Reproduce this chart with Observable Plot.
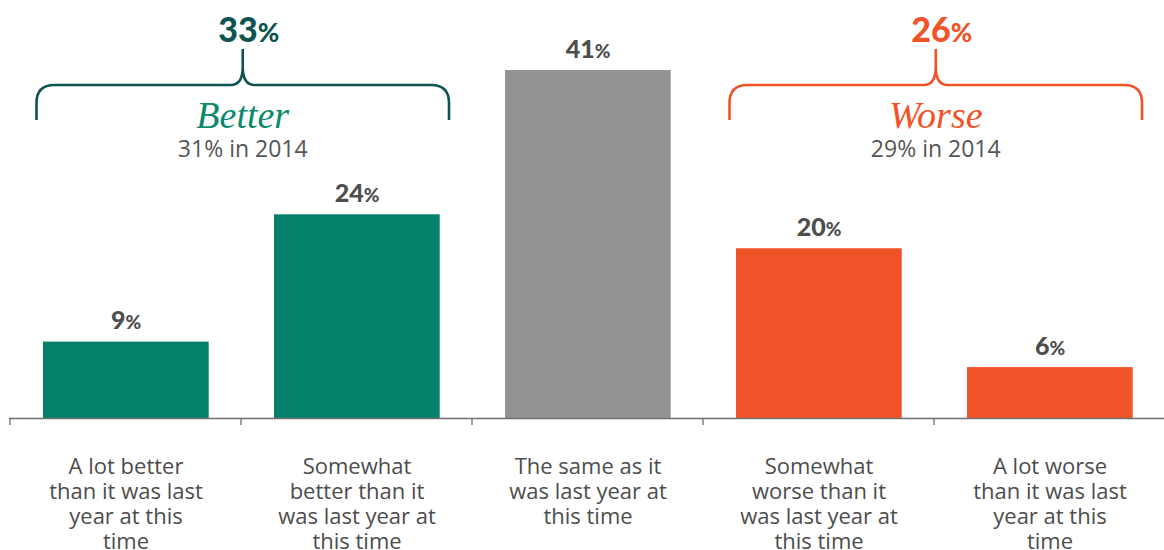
<!DOCTYPE html>
<html><head><meta charset="utf-8">
<script src="https://cdn.jsdelivr.net/npm/d3@7"></script>
<script src="https://cdn.jsdelivr.net/npm/@observablehq/plot@0.6"></script>
<style>html,body{margin:0;padding:0;background:#fff;} svg{display:block}</style>
</head><body><div id="chart"></div>
<script>
// ---- data ----
const categories = [
  "A lot better than it was last year at this time",
  "Somewhat better than it was last year at this time",
  "The same as it was last year at this time",
  "Somewhat worse than it was last year at this time",
  "A lot worse than it was last year at this time"
];
const labelLines = [
  ["A lot better", "than it was last", "year at this", "time"],
  ["Somewhat", "better than it", "was last year at", "this time"],
  ["The same as it", "was last year at", "this time"],
  ["Somewhat", "worse than it", "was last year at", "this time"],
  ["A lot worse", "than it was last", "year at this", "time"]
];
const values = [9, 24, 41, 20, 6];
const groups = ["Better", "Better", "Same", "Worse", "Worse"];

const braceNames = ["Better", "Worse"];
const braceTotals = [33, 26];
const braceNotes = ["31% in 2014", "29% in 2014"];
const braceSpans = [[0, 1], [3, 4]];

// ---- style ----
const TEAL = "#05806b", DARKTEAL = "#0d5450", GRAY = "#939393", ORANGE = "#f05327";
const TEXT = "#4d4d4d";
const braceStroke = {Better: DARKTEAL, Worse: ORANGE};
const braceTotalColor = {Better: DARKTEAL, Worse: ORANGE};
const braceNameColor = {Better: "#0a8a6c", Worse: ORANGE};

const data = categories.map((c, i) => ({cat: c, value: values[i], group: groups[i], label: labelLines[i].join("\n")}));

function bandInfo(x) {
  return typeof x.bandwidth === "function" ? x.bandwidth() : (x(categories[1]) - x(categories[0]));
}

const ticksMark = (index, scales) => {
  const x = scales.x, y0 = scales.y(0);
  const bw = bandInfo(x);
  const g = d3.create("svg:g").attr("stroke", "#6f6f6f").attr("stroke-width", 1.3);
  const pos = categories.map(c => x(c));
  pos.push(x(categories[categories.length - 1]) + bw);
  for (const p of pos) g.append("line").attr("x1", p).attr("x2", p).attr("y1", y0).attr("y2", y0 + 7);
  return g.node();
};

const bracesMark = (index, scales) => {
  const x = scales.x;
  const bw = bandInfo(x);
  const g = d3.create("svg:g");
  braceNames.forEach((name, i) => {
    const [a, b] = braceSpans[i];
    const x0 = x(categories[a]) + 26.5;
    const x1 = x(categories[b]) + bw - 23;
    const cx = (x0 + x1) / 2;
    const yh = 85, yEnd = 120, yTop = 49, r = 18;
    const p = d3.path();
    p.moveTo(x0, yEnd); p.lineTo(x0, yh + r); p.quadraticCurveTo(x0, yh, x0 + r, yh);
    p.lineTo(cx - 12, yh); p.quadraticCurveTo(cx, yh, cx, yh - 18); p.lineTo(cx, yTop);
    p.moveTo(cx, yh - 18); p.quadraticCurveTo(cx, yh, cx + 12, yh);
    p.lineTo(x1 - r, yh); p.quadraticCurveTo(x1, yh, x1, yh + r); p.lineTo(x1, yEnd);
    g.append("path").attr("d", p.toString()).attr("fill", "none")
      .attr("stroke", braceStroke[name]).attr("stroke-width", 2.6).attr("stroke-linejoin", "round");
    const t = g.append("text").attr("x", cx + 6).attr("y", 42).attr("text-anchor", "middle")
      .attr("font-family", "Lato, sans-serif").attr("font-weight", 900).attr("font-size", 34)
      .attr("fill", braceTotalColor[name]);
    t.append("tspan").text(braceTotals[i]);
    t.append("tspan").attr("font-size", 26).text("%");
    g.append("text").attr("x", cx).attr("y", 128).attr("text-anchor", "middle")
      .attr("font-family", "'Liberation Serif', serif").attr("font-style", "italic").attr("font-size", 38)
      .attr("fill", braceNameColor[name]).text(name);
    g.append("text").attr("x", cx).attr("y", 157).attr("text-anchor", "middle")
      .attr("font-family", "'Open Sans', sans-serif").attr("font-size", 23)
      .attr("fill", "#555").text(braceNotes[i]);
  });
  return g.node();
};

const chart = Plot.plot({
  width: 1164, height: 550,
  marginLeft: 9, marginRight: -1.5, marginTop: 70, marginBottom: 132,
  x: {domain: categories, padding: 0, axis: null},
  y: {domain: [0, 41], axis: null},
  color: {domain: ["Better", "Same", "Worse"], range: [TEAL, GRAY, ORANGE]},
  style: {background: "#fff", fontFamily: "'Open Sans', sans-serif", overflow: "visible"},
  marks: [
    Plot.barY(data, {x: "cat", y: "value", fill: "group", insetLeft: 33, insetRight: 32.3}),
    Plot.ruleY([0], {stroke: "#6f6f6f", strokeWidth: 1.5}),
    ticksMark,
    Plot.text(data, {x: "cat", y: "value", text: d => d.value + "%", dy: -13, lineAnchor: "bottom",
      fontSize: 25, fontWeight: 900, fontFamily: "Lato, sans-serif", fill: TEXT}),
    Plot.text(data, {x: "cat", y: 0, text: "label", lineAnchor: "top", dy: 38,
      fontSize: 22, lineHeight: 1.13, fill: TEXT}),
    bracesMark
  ]
});

d3.select(chart).selectAll("text").each(function() {
  const m = /^(\d+)%$/.exec(this.textContent);
  if (m && this.childElementCount === 0) {
    this.textContent = "";
    d3.select(this).append("tspan").text(m[1]);
    d3.select(this).append("tspan").attr("font-size", 19).text("%");
  }
});

document.getElementById("chart").appendChild(chart);
</script>
</body></html>
